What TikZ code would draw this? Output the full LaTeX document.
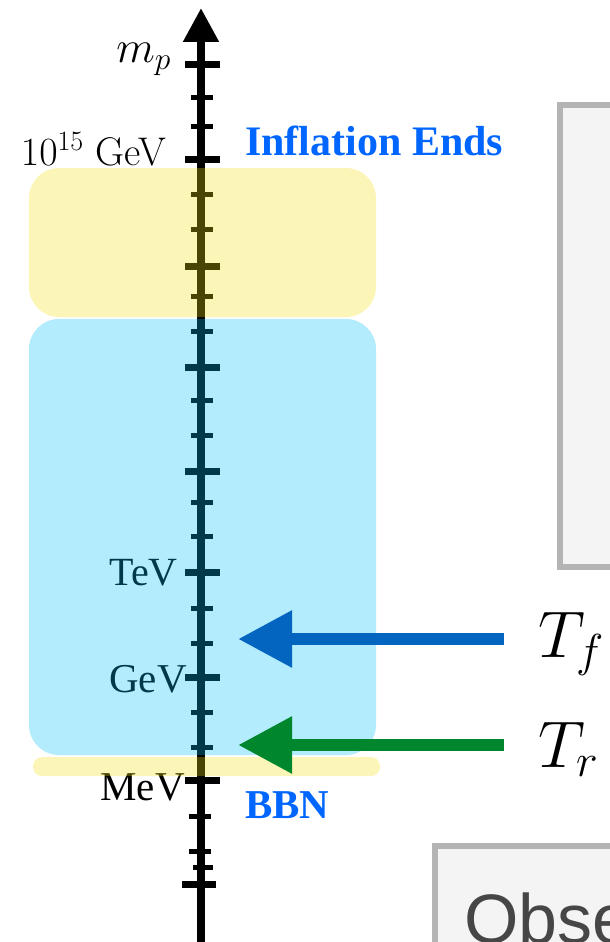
\RequirePackage{fix-cm}
\documentclass[tikz,border=0pt]{standalone}
\usepackage{fontspec}
\newfontfamily\timesfont{Liberation Serif}
\newfontfamily\helvfont{Liberation Sans}
\usetikzlibrary{arrows.meta}
\definecolor{infblue}{RGB}{0,102,255}
\definecolor{tfblue}{RGB}{3,101,192}
\definecolor{trgreen}{RGB}{0,135,45}
\definecolor{boxyellow}{RGB}{242,226,16}
\definecolor{boxcyan}{RGB}{0,191,247}
\definecolor{framegray}{RGB}{180,180,180}
\definecolor{panelgray}{RGB}{243,244,243}
\definecolor{obsgray}{RGB}{70,70,70}

\begin{document}
\begin{tikzpicture}[x=1pt,y=-1pt,
  bigtick/.style={line width=7pt},smalltick/.style={line width=5pt},
  lbl/.style={inner sep=0pt,anchor=base east},
  region/.style={opacity=0.3,rounded corners=30pt},
  temparrow/.style={line width=12pt,-{Triangle[length=54pt,width=54pt]}},
  panel/.style={draw=framegray,fill=panelgray,line width=6pt}]
\useasboundingbox (0,0) rectangle (610,942);\clip (0,0) rectangle (610,942);
% panels on the right
\draw[panel] (560,105) rectangle (650,567);
\draw[panel] (435,846) rectangle (650,990);
\node[inner sep=0pt,anchor=base west,font=\helvfont\fontsize{70}{84}\selectfont,text=obsgray] (obs) at (464,943) {Obse};
% energy axis
\coordinate (axbot) at (201,942);\coordinate (axtop) at (201,8);
\draw[line width=8pt,-{Triangle[length=34pt,width=34pt]}] (axbot)--(axtop);
\foreach \y in {65,159,266,367,471,572,677,780} \draw[bigtick] (185,\y)--(220,\y);
\draw[bigtick] (182,884)--(216,884);
\foreach \y in {97,126,194,229,296,331,400,435,502,536,608,643,712,747} \draw[smalltick] (191,\y)--(213,\y);
\foreach \y in {816,851} \draw[smalltick] (189,\y)--(211,\y);
\draw[smalltick] (193,867)--(213,867);
\node[lbl,font=\fontsize{45}{54}\selectfont] (mp) at (171,63) {$m_p$};
\node[lbl,font=\fontsize{40}{48}\selectfont] (gut) at (166,165) {$10^{15}$ GeV};
\node[lbl,font=\timesfont\fontsize{40}{48}\selectfont] (tev) at (178,585) {TeV};
\node[lbl,font=\timesfont\fontsize{41}{49}\selectfont] (gev) at (187,692) {GeV};
\node[lbl,font=\timesfont\fontsize{41}{49}\selectfont] (mev) at (185,800) {MeV};
\node[inner sep=0pt,anchor=base west,font=\timesfont\bfseries\fontsize{42}{50}\selectfont,text=infblue] (infl) at (245,155) {Inflation Ends};
\node[inner sep=0pt,anchor=base west,font=\timesfont\bfseries\fontsize{41}{49}\selectfont,text=infblue] (bbn) at (245,818) {BBN};
% shaded epochs
\fill[boxyellow,region] (29,168) rectangle (376,317);
\fill[boxcyan,region] (29,319) rectangle (376,755);
\fill[boxyellow,opacity=0.3,rounded corners=9pt] (33,757) rectangle (380,776);
% temperatures
\node[inner sep=0pt,anchor=base west,font=\fontsize{66}{78}\selectfont] (tf) at (538,657) {$T_f$};
\node[inner sep=0pt,anchor=base west,font=\fontsize{66}{78}\selectfont] (tr) at (538,767) {$T_r$};
\coordinate (tfstart) at (504,639);\coordinate (tfpt) at (238,639);
\coordinate (trstart) at (504,745);\coordinate (trpt) at (238,745);
\draw[temparrow,tfblue] (tfstart)--(tfpt);
\draw[temparrow,trgreen] (trstart)--(trpt);
\end{tikzpicture}
\end{document}
